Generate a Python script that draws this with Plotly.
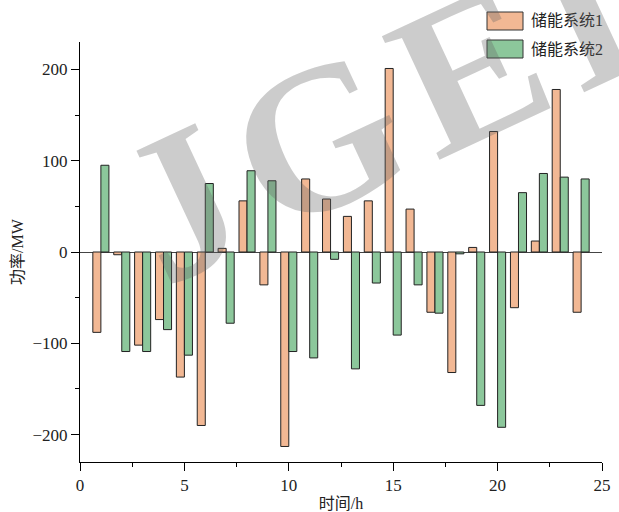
import plotly.graph_objects as go

hours = list(range(1, 25))
series1_name = "储能系统1"
series2_name = "储能系统2"
storage1 = [-88, -3, -102, -74, -137, -190, 4, 56, -36, -213, 80, 58, 39, 56, 201, 47,
            -66, -132, 5, 132, -61, 12, 178, -66]
storage2 = [95, -109, -109, -85, -113, 75, -78, 89, 78, -109, -116, -8, -128, -34, -91, -36,
            -67, -2, -168, -192, 65, 86, 82, 80]

c1 = "#F2B894"
c2 = "#8CC79B"
serif = "Liberation Serif, Times New Roman, Noto Sans CJK SC, serif"

fig = go.Figure()
fig.add_trace(go.Bar(x=hours, y=storage1, name=series1_name, marker=dict(color=c1, line=dict(color="#222", width=1))))
fig.add_trace(go.Bar(x=hours, y=storage2, name=series2_name, marker=dict(color=c2, line=dict(color="#222", width=1))))

axis_common = dict(
    showline=True, linecolor="black", linewidth=1, ticks="outside", ticklen=8, tickcolor="black",
    showgrid=False, tickfont=dict(family=serif, size=17, color="#222"), mirror=False,
    automargin=False,
)
fig.update_layout(
    width=619, height=512,
    margin=dict(l=80, r=17, t=42, b=50),
    plot_bgcolor="white", paper_bgcolor="white",
    barmode="group", bargap=0.23, bargroupgap=0,
    showlegend=False,
    xaxis=dict(range=[0, 25], dtick=5, tick0=0,
               minor=dict(dtick=2.5, ticklen=4, ticks="outside", tickcolor="black"),
               title=dict(text="时间/h", font=dict(family=serif, size=16, color="#222"), standoff=4),
               zeroline=False, **axis_common),
    yaxis=dict(range=[-230, 230], dtick=100, tick0=0,
               minor=dict(dtick=50, ticklen=4, ticks="outside", tickcolor="black"),
               title=dict(text="功率/MW", font=dict(family=serif, size=16, color="#222"), standoff=4),
               zeroline=True, zerolinecolor="#444", zerolinewidth=1, **axis_common),
)

# legend drawn manually to match the large swatches
legend_items = [(series1_name, c1, 12, 30), (series2_name, c2, 40, 58)]
for name, col, top, bot in legend_items:
    fig.add_shape(type="rect", xref="paper", yref="paper",
                  x0=(487 - 80) / 522, x1=(523 - 80) / 522,
                  y0=(462 - bot) / 420, y1=(462 - top) / 420,
                  fillcolor=col, line=dict(color="#333", width=1))
    fig.add_annotation(xref="paper", yref="paper", x=(529 - 80) / 522, y=(462 - (top + bot) / 2) / 420,
                       text=name, showarrow=False, xanchor="left", yanchor="middle",
                       font=dict(family=serif, size=16, color="#222"))

# watermark
fig.add_annotation(xref="paper", yref="paper", x=0.571, y=0.836,
                   text="<b>J\u200aG\u200aE\u200aI</b>",
                   showarrow=False, textangle=-25, xanchor="center", yanchor="middle",
                   font=dict(family="Liberation Serif, serif", size=208, color="rgba(100,100,100,0.33)"))

fig.write_html("out.html", config={"displayModeBar": False},
               post_script="document.body.style.margin='0';")
